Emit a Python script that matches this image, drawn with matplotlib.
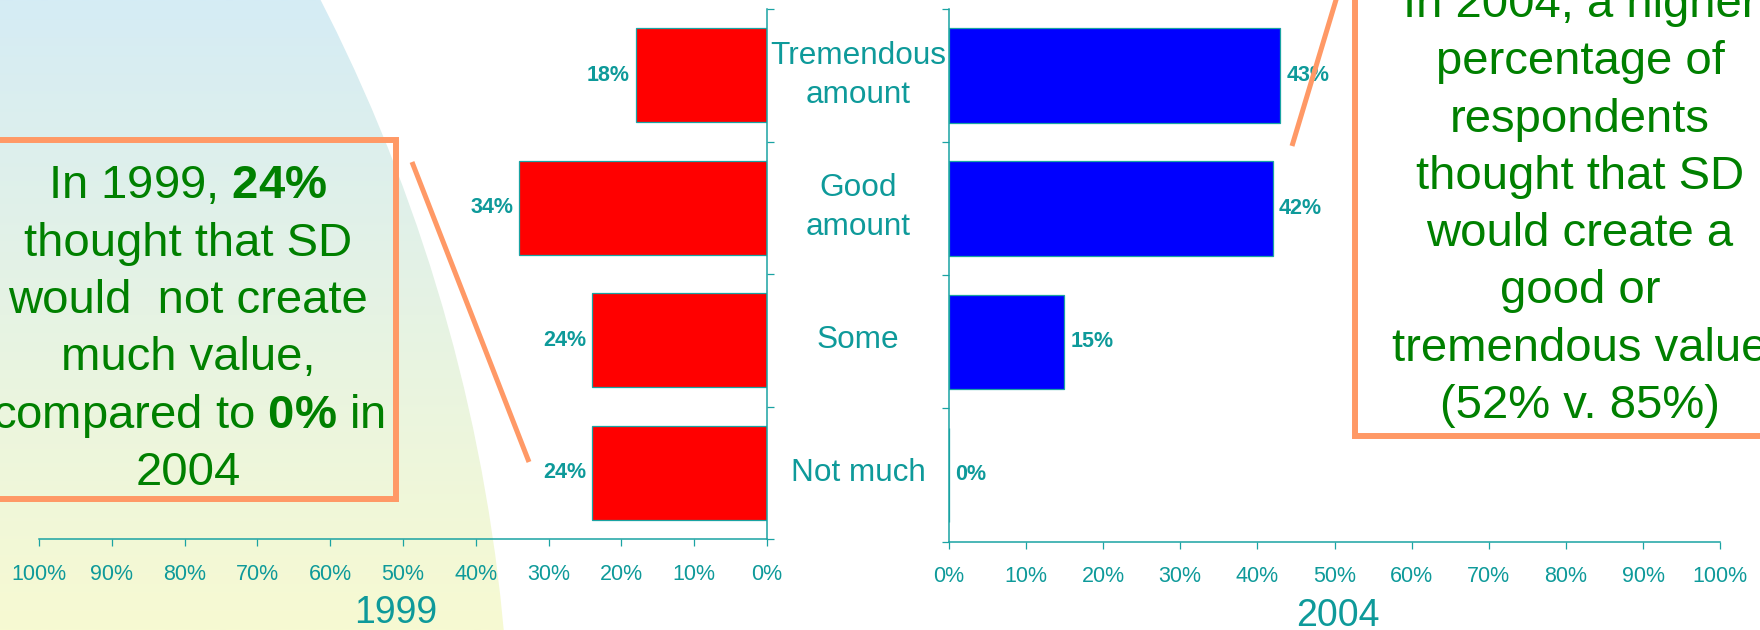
import numpy as np
import matplotlib as mpl
mpl.use('Agg')
import matplotlib.pyplot as plt
from matplotlib.patches import Rectangle, Circle
from matplotlib.transforms import blended_transform_factory
from matplotlib.ticker import PercentFormatter

mpl.rcParams.update({
    "font.family": ["Liberation Sans", "DejaVu Sans"],
    "mathtext.fontset": "custom",
    "mathtext.rm": "Liberation Sans",
    "mathtext.bf": "Liberation Sans:bold",
})

categories = ["Tremendous\namount", "Good\namount", "Some", "Not much"]
share_1999 = [18, 34, 24, 24]
share_2004 = [43, 42, 15, 0]
pct_ticks = list(range(0, 101, 10))

teal = "#0E9A9A"
axis_teal = "#1AA3A3"
green = "#008000"
salmon = "#FF9966"

W, H = 1760, 630
fig = plt.figure(figsize=(W / 100, H / 100), dpi=100)

# backdrop: pale blue -> yellow wash, bounded on the right by a big arc
bg = fig.add_axes([0, 0, 1, 1], zorder=-1)
top_c = np.array([213, 236, 245]) / 255
bot_c = np.array([247, 250, 210]) / 255
t = np.linspace(0, 1, 256)[:, None, None]
grad = top_c * (1 - t) + bot_c * t
img = bg.imshow(grad, extent=[0, W, H, 0], aspect="auto", interpolation="bilinear")
img.set_clip_path(Circle((-1215, 788), 1726, transform=bg.transData))
bg.set_xlim(0, W)
bg.set_ylim(H, 0)
bg.axis("off")


def px_axes(x0, x1, y0, y1):
    return fig.add_axes([x0 / W, 1 - y1 / H, (x1 - x0) / W, (y1 - y0) / H])


ax1 = px_axes(39, 767, 9, 539)
ax2 = px_axes(948.7, 1720.3, 9, 541.5)

ypos = np.arange(len(categories)) + 0.5
for ax in (ax1, ax2):
    ax.patch.set_visible(False)
    ax.set_ylim(len(categories), 0)
    ax.set_xlim(0, 100)
    ax.set_xticks(pct_ticks)
    ax.xaxis.set_major_formatter(PercentFormatter(xmax=100, decimals=0))
    ax.set_yticks(np.arange(len(categories) + 1))
    ax.set_yticklabels([])
    ax.tick_params(colors=axis_teal, labelcolor=teal, labelsize=15.5,
                   length=5, width=0.9, direction="out")
    ax.tick_params(axis="x", pad=13)
    for s in ax.spines.values():
        s.set_color(axis_teal)
        s.set_linewidth(1.1)

ax1.set_xlim(100, 0)
ax1.spines[["left", "top"]].set_visible(False)
ax1.yaxis.tick_right()
ax2.spines[["right", "top"]].set_visible(False)

ax1.barh(ypos, share_1999, height=0.71, color="#FF0000", edgecolor=axis_teal, linewidth=0.9)
ax2.barh(ypos, share_2004, height=0.71, color="#0000FF", edgecolor=axis_teal, linewidth=0.9)

for y, v in zip(ypos, share_1999):
    ax1.annotate(f"{v}%", (v, y), xytext=(-4.5, 0), textcoords="offset points",
                 ha="right", va="center", fontsize=15.5, fontweight="bold", color=teal)
for y, v in zip(ypos, share_2004):
    ax2.annotate(f"{v}%", (v, y), xytext=(4.5, 0), textcoords="offset points",
                 ha="left", va="center", fontsize=15.5, fontweight="bold", color=teal)

# category names sit in the gap between the two panels
cat_tf = blended_transform_factory(fig.transFigure, ax1.transData)
for y, c in zip(ypos, categories):
    fig.text(858 / W, y, c, transform=cat_tf, ha="center", va="center",
             fontsize=22.7, color=teal, linespacing=1.39)

ax1.set_xlabel("1999", fontsize=27, color=teal, labelpad=7.5)
ax1.xaxis.label.set_x(0.49)
ax2.set_xlabel("2004", fontsize=27, color=teal, labelpad=7.5)
ax2.xaxis.label.set_x(0.505)

# callout boxes and their pointer lines
ov = fig.add_axes([0, 0, 1, 1], zorder=5)
ov.set_xlim(0, W)
ov.set_ylim(H, 0)
ov.axis("off")

ov.add_patch(Rectangle((-20, 139.5), 415.5, 359.5, fill=False, ec=salmon, lw=4.3))
ov.add_patch(Rectangle((1354.7, -20), 500, 456, fill=False, ec=salmon, lw=4.3))
ov.plot([412, 529], [162, 462], color=salmon, lw=3.6, solid_capstyle="butt")
ov.plot([1292, 1345], [146, -30], color=salmon, lw=3.6, solid_capstyle="butt")

left_note = [r"In 1999, $\mathbf{24\%}$", "thought that SD", "would  not create",
             "much value,", r"compared to $\mathbf{0\%}$ in", "2004"]
right_note = ["In 2004, a higher", "percentage of", "respondents", "thought that SD",
              "would create a", "good or", "tremendous value", "(52% v. 85%)"]

for i, line in enumerate(left_note):
    ov.text(188, 198.3 + i * 57.4, line, ha="center", va="baseline",
            fontsize=34, color=green)
for i, line in enumerate(right_note):
    ov.text(1580, 16.9 + i * 57.3, line, ha="center", va="baseline",
            fontsize=34, color=green)

fig.savefig("out.png", dpi=100)
